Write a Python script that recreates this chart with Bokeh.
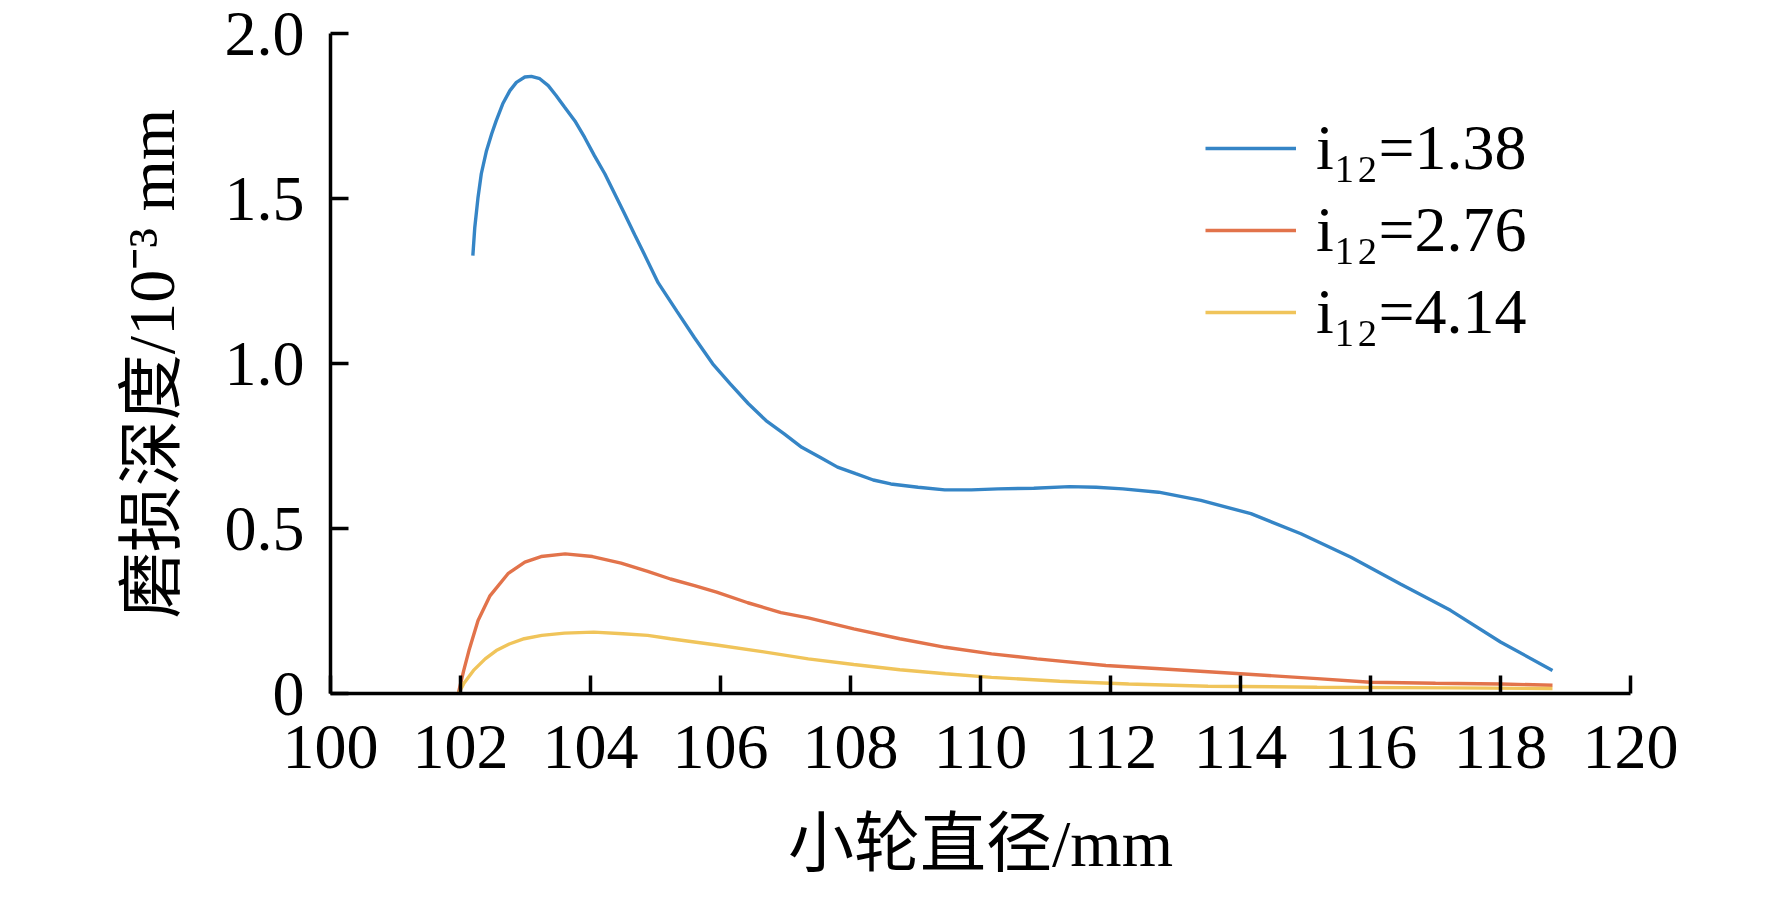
from bokeh.plotting import figure
from bokeh.models import Range1d, FixedTicker, Legend, LegendItem
from bokeh.embed import file_html
from bokeh.resources import INLINE

# ---- data ----
x_a = [102.19, 102.22, 102.27, 102.32, 102.40, 102.48, 102.55, 102.65, 102.76, 102.86,
       102.99, 103.09, 103.22, 103.35, 103.47, 103.60, 103.76, 103.91, 104.06, 104.22,
       104.37, 104.52, 104.68, 104.83, 105.04, 105.33, 105.60, 105.88, 106.15, 106.43,
       106.70, 106.98, 107.25, 107.53, 107.80, 108.08, 108.35, 108.62, 109.04, 109.45,
       109.86, 110.27, 110.82, 111.37, 111.78, 112.19, 112.74, 113.39, 114.16, 114.93,
       115.70, 116.46, 117.23, 118.0, 118.8]
y_a = [1.327, 1.413, 1.504, 1.575, 1.645, 1.696, 1.736, 1.787, 1.827, 1.852,
       1.868, 1.870, 1.863, 1.842, 1.812, 1.777, 1.735, 1.685, 1.630, 1.575,
       1.515, 1.455, 1.390, 1.330, 1.245, 1.158, 1.078, 0.999, 0.938, 0.878,
       0.827, 0.787, 0.746, 0.716, 0.686, 0.666, 0.647, 0.635, 0.625, 0.617,
       0.617, 0.620, 0.622, 0.627, 0.625, 0.620, 0.610, 0.585, 0.545, 0.484,
       0.413, 0.332, 0.252, 0.156, 0.070]

x_b = [101.97, 102.05, 102.13, 102.27, 102.45, 102.73, 102.99, 103.24, 103.61, 104.03,
       104.47, 104.88, 105.23, 105.60, 105.94, 106.42, 106.93, 107.35, 108.05, 108.76,
       109.46, 110.17, 110.87, 111.93, 112.76, 114.0, 115.18, 116.0, 117.0, 118.0, 118.8]
y_b = [0.004, 0.070, 0.130, 0.221, 0.295, 0.363, 0.398, 0.415, 0.423, 0.415,
       0.395, 0.370, 0.347, 0.327, 0.307, 0.275, 0.245, 0.229, 0.196, 0.166,
       0.140, 0.120, 0.105, 0.085, 0.075, 0.060, 0.045, 0.034, 0.031, 0.029, 0.025]

x_c = [101.97, 102.05, 102.2, 102.38, 102.55, 102.75, 102.98, 103.25, 103.6, 104.05,
       104.5, 104.88, 105.23, 105.94, 106.64, 107.35, 108.05, 108.76, 109.46, 110.17,
       111.22, 112.28, 113.5, 115.18, 117.2, 118.8]
y_c = [0.0, 0.030, 0.070, 0.105, 0.130, 0.150, 0.166, 0.176, 0.183, 0.186,
       0.181, 0.176, 0.166, 0.147, 0.127, 0.105, 0.088, 0.072, 0.060, 0.049,
       0.037, 0.029, 0.022, 0.019, 0.017, 0.015]

series_labels = ["i₁₂=1.38", "i₁₂=2.76", "i₁₂=4.14"]
series_colors = ["#3585c6", "#e2734b", "#f0c45a"]

x_ticks = [100, 102, 104, 106, 108, 110, 112, 114, 116, 118, 120]
y_ticks = [0, 0.5, 1.0, 1.5, 2.0]
y_tick_labels = {0: "0", 0.5: "0.5", 1.0: "1.0", 1.5: "1.5", 2.0: "2.0"}

x_title = "小轮直径/mm"
y_title = "磨损深度/10⁻³ mm"

FONT = "'Liberation Serif', 'Noto Sans CJK SC', serif"
FS_TICK = "64px"
FS_LABEL = "66px"

p = figure(width=1756, height=883, output_backend="svg", toolbar_location=None,
           x_range=Range1d(100, 120), y_range=Range1d(0, 2.0),
           min_border_left=330, min_border_right=126, min_border_top=33,
           min_border_bottom=190)
p.outline_line_color = None
p.grid.visible = False
p.background_fill_color = "white"

r_a = p.line(x_a, y_a, line_color=series_colors[0], line_width=3.4)
r_b = p.line(x_b, y_b, line_color=series_colors[1], line_width=3.4)
r_c = p.line(x_c, y_c, line_color=series_colors[2], line_width=3.4)

for ax in (p.xaxis[0], p.yaxis[0]):
    ax.axis_line_width = 3.5
    ax.axis_line_color = "black"
    ax.major_tick_line_width = 3.5
    ax.major_tick_line_color = "black"
    ax.major_tick_in = 18
    ax.major_tick_out = 0
    ax.minor_tick_line_color = None
    ax.major_label_text_font = FONT
    ax.major_label_text_font_size = FS_TICK
    ax.major_label_text_color = "black"
    ax.axis_label_text_font = FONT
    ax.axis_label_text_font_size = FS_LABEL
    ax.axis_label_text_font_style = "normal"
    ax.axis_label_text_color = "black"

p.xaxis.ticker = FixedTicker(ticks=x_ticks)
p.yaxis.ticker = FixedTicker(ticks=y_ticks)
p.yaxis.major_label_overrides = y_tick_labels
p.xaxis.axis_label = x_title
p.yaxis.axis_label = y_title
p.xaxis.major_label_standoff = 32
p.yaxis.major_label_standoff = 26
p.xaxis.axis_label_standoff = 36
p.yaxis.axis_label_standoff = 34

legend = Legend(items=[LegendItem(label=series_labels[0], renderers=[r_a]),
                       LegendItem(label=series_labels[1], renderers=[r_b]),
                       LegendItem(label=series_labels[2], renderers=[r_c])],
                location=(875, 344))
legend.border_line_color = None
legend.background_fill_alpha = 0
legend.padding = 0
legend.margin = 0
legend.spacing = 8
legend.glyph_width = 91
legend.glyph_height = 72
legend.label_height = 72
legend.label_standoff = 20
legend.label_text_font = FONT
legend.label_text_font_size = FS_TICK
legend.label_text_color = "black"
p.add_layout(legend, "center")

open("out.html", "w").write(file_html(p, INLINE))
